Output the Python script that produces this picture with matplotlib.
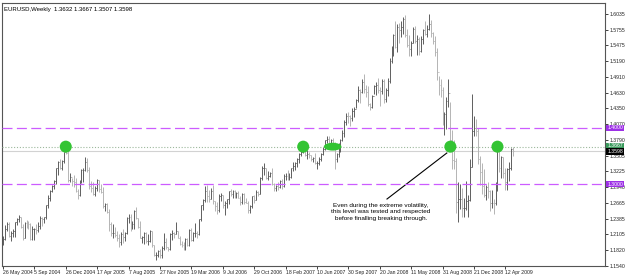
import numpy as np
import matplotlib.pyplot as plt
from matplotlib.patches import Ellipse

# weekly EURUSD bars as (high, low, close); first bar is the week of 16 May 2004
bars_2004 = [
    (1.2080, 1.1920, 1.2020), (1.2275, 1.2000, 1.2200), (1.2330, 1.2170, 1.2290),
    (1.2320, 1.2050, 1.2080), (1.2170, 1.1990, 1.2130), (1.2200, 1.2060, 1.2160),
    (1.2330, 1.2050, 1.2320), (1.2400, 1.2270, 1.2380), (1.2450, 1.2320, 1.2410),
    (1.2420, 1.2210, 1.2230), (1.2290, 1.2000, 1.2030), (1.2320, 1.2040, 1.2310),
    (1.2350, 1.2210, 1.2300), (1.2340, 1.2200, 1.2290), (1.2300, 1.2000, 1.2020),
    (1.2250, 1.2000, 1.2190), (1.2220, 1.2010, 1.2200), (1.2290, 1.2100, 1.2180),
    (1.2320, 1.2150, 1.2260), (1.2430, 1.2200, 1.2400), (1.2410, 1.2260, 1.2380),
    (1.2420, 1.2300, 1.2410), (1.2630, 1.2380, 1.2620), (1.2800, 1.2580, 1.2760),
    (1.2890, 1.2700, 1.2880), (1.2990, 1.2850, 1.2970), (1.3080, 1.2910, 1.3050),
    (1.3290, 1.3000, 1.3280), (1.3420, 1.3170, 1.3400), (1.3450, 1.3270, 1.3290),
    (1.3430, 1.3250, 1.3410), (1.3580, 1.3370, 1.3570), (1.3667, 1.3530, 1.3560),
]
bars_2005 = [
    (1.3590, 1.3040, 1.3080), (1.3200, 1.3030, 1.3130), (1.3110, 1.2960, 1.3060),
    (1.3170, 1.2950, 1.3040), (1.3100, 1.2850, 1.2880), (1.2920, 1.2730, 1.2800),
    (1.3080, 1.2790, 1.3060), (1.3270, 1.3020, 1.3250), (1.3280, 1.3030, 1.3250),
    (1.3480, 1.3230, 1.3400), (1.3460, 1.3220, 1.3250), (1.3300, 1.2920, 1.2960),
    (1.3050, 1.2860, 1.2930), (1.3040, 1.2800, 1.2830), (1.2970, 1.2780, 1.2930),
    (1.3090, 1.2870, 1.3070), (1.3070, 1.2850, 1.2920), (1.3000, 1.2840, 1.2850),
    (1.2940, 1.2580, 1.2600), (1.2670, 1.2520, 1.2640), (1.2660, 1.2490, 1.2500),
    (1.2550, 1.2170, 1.2280), (1.2330, 1.2070, 1.2120), (1.2290, 1.2040, 1.2130),
    (1.2230, 1.2060, 1.2090), (1.2170, 1.1990, 1.2040), (1.2110, 1.1870, 1.1960),
    (1.2140, 1.1920, 1.2100), (1.2190, 1.1950, 1.2060), (1.2150, 1.1990, 1.2130),
    (1.2420, 1.2110, 1.2390), (1.2470, 1.2300, 1.2420), (1.2460, 1.2170, 1.2280),
    (1.2340, 1.2190, 1.2290), (1.2530, 1.2200, 1.2520), (1.2590, 1.2380, 1.2400),
    (1.2400, 1.2210, 1.2230), (1.2340, 1.2030, 1.2040), (1.2080, 1.1950, 1.2060),
    (1.2140, 1.1930, 1.2120), (1.2150, 1.1950, 1.1990), (1.2110, 1.1920, 1.1990),
    (1.2180, 1.1960, 1.2170), (1.2160, 1.1870, 1.1910), (1.1920, 1.1710, 1.1730),
    (1.1780, 1.1640, 1.1730), (1.1820, 1.1700, 1.1800), (1.1850, 1.1680, 1.1730),
    (1.1890, 1.1680, 1.1860), (1.2120, 1.1820, 1.1960), (1.2030, 1.1850, 1.1880),
    (1.1870, 1.1800, 1.1840),
]
bars_2006 = [
    (1.2120, 1.1830, 1.2100), (1.2180, 1.2000, 1.2130), (1.2140, 1.2030, 1.2100),
    (1.2320, 1.2100, 1.2160), (1.2170, 1.2030, 1.2040), (1.2080, 1.1920, 1.1930),
    (1.1980, 1.1870, 1.1920), (1.1960, 1.1820, 1.1890), (1.2040, 1.1830, 1.2020),
    (1.2040, 1.1900, 1.1920), (1.2200, 1.1900, 1.2180), (1.2220, 1.1980, 1.2000),
    (1.2150, 1.1990, 1.2120), (1.2300, 1.2050, 1.2120), (1.2160, 1.2030, 1.2110),
    (1.2380, 1.2090, 1.2370), (1.2630, 1.2340, 1.2620), (1.2730, 1.2540, 1.2720),
    (1.2960, 1.2680, 1.2870), (1.2980, 1.2680, 1.2780), (1.2900, 1.2680, 1.2740),
    (1.2930, 1.2730, 1.2880), (1.2980, 1.2650, 1.2700), (1.2700, 1.2520, 1.2600),
    (1.2680, 1.2460, 1.2530), (1.2820, 1.2500, 1.2790), (1.2840, 1.2690, 1.2800),
    (1.2800, 1.2570, 1.2620), (1.2690, 1.2450, 1.2660), (1.2740, 1.2580, 1.2740),
    (1.2880, 1.2650, 1.2870), (1.2920, 1.2780, 1.2820), (1.2890, 1.2750, 1.2870),
    (1.2900, 1.2750, 1.2770), (1.2860, 1.2760, 1.2840), (1.2880, 1.2750, 1.2760),
    (1.2780, 1.2620, 1.2680), (1.2840, 1.2650, 1.2830), (1.2840, 1.2640, 1.2680),
    (1.2760, 1.2660, 1.2670), (1.2690, 1.2490, 1.2540), (1.2620, 1.2490, 1.2600),
    (1.2790, 1.2580, 1.2780), (1.2800, 1.2670, 1.2720), (1.2890, 1.2710, 1.2860),
    (1.2880, 1.2780, 1.2830), (1.3120, 1.2830, 1.3100), (1.3330, 1.3080, 1.3280),
    (1.3370, 1.3160, 1.3280), (1.3290, 1.3090, 1.3110), (1.3230, 1.3080, 1.3150),
    (1.3220, 1.3120, 1.3200),
]
bars_2007 = [
    (1.3290, 1.2990, 1.3000), (1.3020, 1.2870, 1.2930), (1.2990, 1.2880, 1.2960),
    (1.3030, 1.2890, 1.2950), (1.3070, 1.2930, 1.3050), (1.3090, 1.2920, 1.2960),
    (1.3180, 1.2940, 1.3140), (1.3200, 1.3080, 1.3150), (1.3250, 1.3080, 1.3110),
    (1.3200, 1.3070, 1.3120), (1.3290, 1.3100, 1.3280), (1.3390, 1.3240, 1.3330),
    (1.3390, 1.3250, 1.3370), (1.3460, 1.3310, 1.3440), (1.3550, 1.3380, 1.3530),
    (1.3620, 1.3500, 1.3580), (1.3680, 1.3550, 1.3620), (1.3640, 1.3500, 1.3520),
    (1.3600, 1.3450, 1.3530), (1.3570, 1.3470, 1.3510), (1.3520, 1.3410, 1.3450),
    (1.3490, 1.3390, 1.3470), (1.3560, 1.3360, 1.3380), (1.3410, 1.3260, 1.3380),
    (1.3480, 1.3340, 1.3440), (1.3550, 1.3420, 1.3540), (1.3660, 1.3510, 1.3630),
    (1.3790, 1.3610, 1.3780), (1.3850, 1.3740, 1.3810), (1.3850, 1.3660, 1.3690),
    (1.3800, 1.3620, 1.3780), (1.3830, 1.3670, 1.3740), (1.3750, 1.3260, 1.3440),
    (1.3550, 1.3400, 1.3530), (1.3730, 1.3480, 1.3650), (1.3800, 1.3570, 1.3790),
    (1.3960, 1.3770, 1.3910), (1.4140, 1.3840, 1.4110), (1.4260, 1.4050, 1.4220),
    (1.4280, 1.4090, 1.4210), (1.4240, 1.4040, 1.4180), (1.4350, 1.4130, 1.4300),
    (1.4380, 1.4200, 1.4340), (1.4520, 1.4360, 1.4500), (1.4750, 1.4470, 1.4670),
    (1.4700, 1.4440, 1.4640), (1.4870, 1.4630, 1.4820), (1.4970, 1.4620, 1.4690),
    (1.4760, 1.4560, 1.4650), (1.4750, 1.4400, 1.4420), (1.4450, 1.4330, 1.4380),
    (1.4580, 1.4350, 1.4570), (1.4760, 1.4600, 1.4750),
]
bars_2008 = [
    (1.4820, 1.4580, 1.4770), (1.4900, 1.4620, 1.4670), (1.4740, 1.4400, 1.4660),
    (1.4880, 1.4600, 1.4830), (1.4870, 1.4440, 1.4510), (1.4710, 1.4460, 1.4680),
    (1.4890, 1.4570, 1.4830), (1.5240, 1.4810, 1.5190), (1.5470, 1.5160, 1.5360),
    (1.5670, 1.5280, 1.5660), (1.5900, 1.5420, 1.5450), (1.5860, 1.5360, 1.5800),
    (1.5880, 1.5510, 1.5750), (1.5900, 1.5620, 1.5810), (1.5980, 1.5670, 1.5950),
    (1.6020, 1.5620, 1.5660), (1.5760, 1.5440, 1.5480), (1.5660, 1.5290, 1.5410),
    (1.5560, 1.5290, 1.5520), (1.5800, 1.5510, 1.5760), (1.5820, 1.5510, 1.5550),
    (1.5660, 1.5310, 1.5580), (1.5630, 1.5310, 1.5380), (1.5640, 1.5350, 1.5590),
    (1.5770, 1.5500, 1.5750), (1.5910, 1.5660, 1.5670), (1.5840, 1.5620, 1.5760),
    (1.6040, 1.5750, 1.5860), (1.5920, 1.5620, 1.5700), (1.5720, 1.5500, 1.5560),
    (1.5640, 1.5280, 1.5360), (1.5420, 1.4860, 1.5000), (1.4930, 1.4580, 1.4760),
    (1.4870, 1.4560, 1.4680), (1.4730, 1.4060, 1.4250), (1.4280, 1.3880, 1.4250),
    (1.4550, 1.3980, 1.4480), (1.4870, 1.4370, 1.4620), (1.4460, 1.3740, 1.3780),
    (1.3960, 1.3260, 1.3430), (1.3780, 1.3260, 1.3420), (1.3460, 1.2490, 1.2680),
    (1.3030, 1.2330, 1.2740), (1.3000, 1.2550, 1.2740), (1.2930, 1.2420, 1.2570),
    (1.2750, 1.2420, 1.2580), (1.3050, 1.2540, 1.2690), (1.2810, 1.2420, 1.2720),
    (1.3440, 1.2700, 1.3310), (1.4600, 1.3300, 1.3940), (1.4210, 1.3850, 1.4000),
    (1.4160, 1.3850, 1.3940),
]
bars_2009 = [
    (1.4000, 1.3350, 1.3450), (1.3500, 1.2980, 1.3220), (1.3380, 1.2830, 1.2970),
    (1.3260, 1.2770, 1.2800), (1.2990, 1.2720, 1.2950), (1.3030, 1.2760, 1.2880),
    (1.2900, 1.2520, 1.2660), (1.2900, 1.2580, 1.2670), (1.2740, 1.2460, 1.2660),
    (1.3040, 1.2630, 1.2930), (1.3740, 1.2880, 1.3590), (1.3650, 1.3220, 1.3280),
    (1.3500, 1.3110, 1.3480), (1.3480, 1.3100, 1.3190), (1.3290, 1.2890, 1.3030),
    (1.3290, 1.2890, 1.3260), (1.3400, 1.3050, 1.3280), (1.3650, 1.3250, 1.3620),
    (1.3667, 1.3507, 1.3598),
]

week_labels = ["26 May 2004", "5 Sep 2004", "26 Dec 2004", "17 Apr 2005", "7 Aug 2005",
               "27 Nov 2005", "19 Mar 2006", "9 Jul 2006", "29 Oct 2006", "18 Feb 2007",
               "10 Jun 2007", "30 Sep 2007", "20 Jan 2008", "11 May 2008", "31 Aug 2008",
               "21 Dec 2008", "12 Apr 2009"]
price_ticks = [1.6035, 1.5755, 1.5475, 1.5190, 1.4910, 1.4630, 1.4350, 1.4070, 1.3790,
               1.3505, 1.3225, 1.2940, 1.2665, 1.2385, 1.2105, 1.1820, 1.1540]
levels = [1.4000, 1.3000]
tested_level = 1.3667
tested_bars = [32, 153, 228, 252]
tested_span = (163.5, 172.5)
header = "EURUSD,Weekly  1.3632 1.3667 1.3507 1.3598"
note = "Even during the extreme volatility,\nthis level was tested and respected\nbefore finalling breaking through."

bars = np.array(bars_2004 + bars_2005 + bars_2006 + bars_2007 + bars_2008 + bars_2009)
highs, lows, closes = bars.T
opens = np.r_[1.2000, closes[:-1]]
x = np.arange(len(bars))
up = closes >= opens
last_close = closes[-1]

plt.rcParams['font.family'] = ['Liberation Sans', 'DejaVu Sans']
fig = plt.figure(figsize=(6.25, 2.75), dpi=100)
ax = fig.add_axes([2 / 625, 9 / 275, 603 / 625, 263 / 275])

for mask, col in ((up, '#5e5e5e'), (~up, '#b4b4b4')):
    ax.vlines(x[mask], lows[mask], highs[mask], color=col, lw=0.7)
    ax.hlines(opens[mask], x[mask] - 0.45, x[mask], color=col, lw=0.6)
    ax.hlines(closes[mask], x[mask], x[mask] + 0.45, color=col, lw=0.6)

# key levels
for lv in levels:
    ax.axhline(lv, color='#cc5cff', lw=0.9, dashes=(8, 3.5), zorder=3)
ax.axhline(tested_level, color='#9cb89c', lw=0.8, ls=(0, (1, 1.6)), zorder=3)
ax.axhline(last_close, color='#d2d2d2', lw=0.8, zorder=1)

# touches of the tested level
ax.scatter(tested_bars, [tested_level] * len(tested_bars), s=75, color='#33c433',
           edgecolors='none', zorder=4)
ax.add_patch(Ellipse((np.mean(tested_span), tested_level), tested_span[1] - tested_span[0],
                     0.014, color='#33c433', lw=0, zorder=4))

# annotation
note_to = (226.2, 1.3554)
note_from = (195.7, 1.2733)
ax.plot([note_from[0], note_to[0]], [note_from[1], note_to[1]], color='black', lw=0.8)
ax.text(192.6, 1.2668, note, fontsize=4.6, ha='center', va='top', linespacing=1.45)

ax.text(0.003, 0.985, header, transform=ax.transAxes, fontsize=4.3, va='top', ha='left')

ax.set_xlim(-0.5, 306.8)
ax.set_ylim(1.1538, 1.623)

ax.yaxis.tick_right()
ax.set_yticks(price_ticks)
ax.set_yticklabels([f'{p:.4f}' for p in price_ticks])
ax.tick_params(axis='y', length=2, width=0.6, pad=1.2, labelsize=3.7, colors='#222222')

ax.set_xticks(np.arange(len(week_labels)) * 16)
ax.set_xticklabels(week_labels)
ax.tick_params(axis='x', length=2, width=0.6, pad=1.0, labelsize=3.7, colors='#222222')
for lab in ax.get_xticklabels():
    lab.set_ha('left')

# price boxes on the right scale
ytr = ax.get_yaxis_transform()
for lv in levels:
    ax.text(1.004, lv, f'{lv:.4f}', transform=ytr, fontsize=3.7, color='white', va='center',
            ha='left', clip_on=False, zorder=6,
            bbox=dict(boxstyle='square,pad=0.18', fc='#9d30e6', ec='none'))
ax.text(1.004, tested_level + 0.0012, f'{tested_level:.4f}', transform=ytr, fontsize=3.7,
        color='white', va='center', ha='left', clip_on=False, zorder=6,
        bbox=dict(boxstyle='square,pad=0.18', fc='#3a9a5c', ec='none'))
ax.text(1.004, last_close - 0.0012, f'{last_close:.4f}', transform=ytr, fontsize=3.7,
        color='white', va='center', ha='left', clip_on=False, zorder=6,
        bbox=dict(boxstyle='square,pad=0.18', fc='black', ec='none'))

for sp in ax.spines.values():
    sp.set_color('#555555')
    sp.set_linewidth(0.8)

fig.savefig('out.png', dpi=100)
